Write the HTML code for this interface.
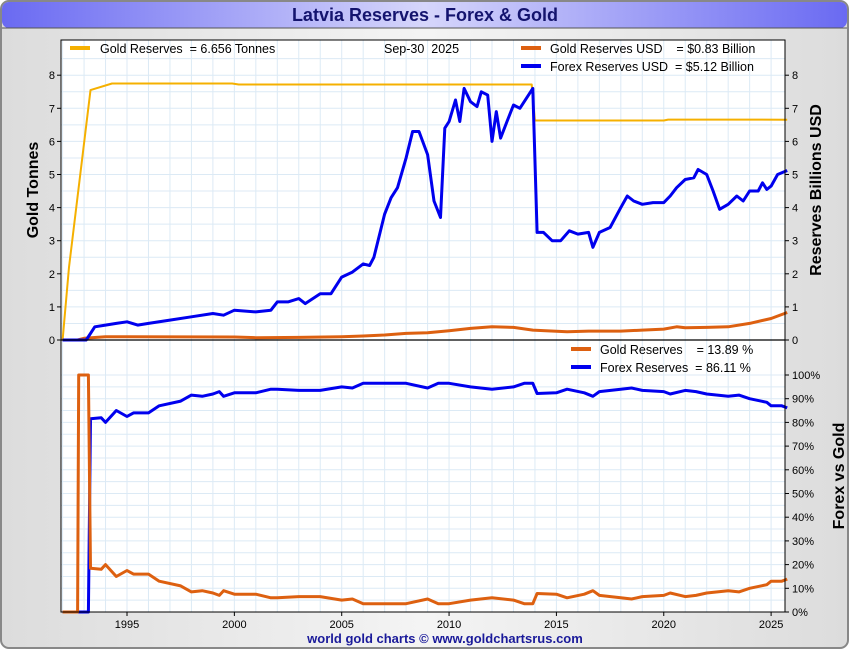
<!DOCTYPE html>
<html><head><meta charset="utf-8"><style>
body{margin:0;background:#fff;font-family:"Liberation Sans",sans-serif}
text{white-space:pre}
</style></head><body>
<svg id="c" width="850" height="650" xmlns="http://www.w3.org/2000/svg" font-family="Liberation Sans, sans-serif">
<defs>
<linearGradient id="tg" x1="0" x2="1"><stop offset="0" stop-color="#6a6af2"/><stop offset="0.5" stop-color="#d6d6fb"/><stop offset="1" stop-color="#6a6af2"/></linearGradient>
<linearGradient id="bg" x1="0" x2="1"><stop offset="0" stop-color="#dcdcdc"/><stop offset="0.5" stop-color="#f4f4f4"/><stop offset="1" stop-color="#dcdcdc"/></linearGradient>
</defs>
<rect x="1" y="1" width="847" height="647" rx="8" fill="url(#bg)" stroke="#888" stroke-width="2"/>
<rect x="2" y="2" width="845" height="26" rx="7" fill="url(#tg)"/>
<line x1="2" y1="28" x2="847" y2="28" stroke="#555" stroke-width="1"/>
<text x="425" y="21" text-anchor="middle" font-size="18" font-weight="bold" fill="#14146e">Latvia Reserves - Forex &amp; Gold</text>
<rect x="61" y="40" width="724" height="572" fill="#fff"/>
<g id="grid"></g>
<g id="marks"></g>
<rect x="61" y="40" width="724" height="572" fill="none" stroke="#000" stroke-width="1"/>
<line x1="61" y1="340" x2="785" y2="340" stroke="#000" stroke-width="1.2"/>
<g id="axes" font-size="11" fill="#000"></g>
<text transform="translate(38,190) rotate(-90)" text-anchor="middle" font-size="16" font-weight="bold">Gold Tonnes</text>
<text transform="translate(821,190) rotate(-90)" text-anchor="middle" font-size="16" font-weight="bold">Reserves Billions USD</text>
<text transform="translate(844,476) rotate(-90)" text-anchor="middle" font-size="16" font-weight="bold">Forex vs Gold</text>
<g font-size="12.5" fill="#000">
<g><rect x="70" y="46" width="20" height="4" fill="#f5b000"/><text x="100" y="53" xml:space="preserve">Gold Reserves  = 6.656 Tonnes</text></g>
<text x="384" y="53" xml:space="preserve">Sep-30  2025</text>
<g><rect x="521" y="46" width="20" height="4" fill="#dd6010"/><text x="550" y="53" xml:space="preserve">Gold Reserves USD    = $0.83 Billion</text></g>
<g><rect x="521" y="64" width="20" height="4" fill="#0000ee"/><text x="550" y="71" xml:space="preserve">Forex Reserves USD  = $5.12 Billion</text></g>
<g><rect x="571" y="347" width="20" height="4" fill="#dd6010"/><text x="600" y="354" xml:space="preserve">Gold Reserves    = 13.89 %</text></g>
<g><rect x="571" y="365" width="20" height="4" fill="#0000ee"/><text x="600" y="372" xml:space="preserve">Forex Reserves  = 86.11 %</text></g>
</g>
<text x="445" y="643" text-anchor="middle" font-size="13" font-weight="bold" fill="#1a1a9a">world gold charts © www.goldchartsrus.com</text>
</svg>
<script>
const goldTonYears=[1992,1992.3,1993.3,1994.3,1999.9,2000.2,2013.85,2014.0,2020.0,2020.2,2025.75];
const goldTonVals=[0,2.2,7.55,7.75,7.75,7.72,7.72,6.63,6.63,6.66,6.656];
const forexYears=[1992,1993.1,1993.3,1993.5,1994,1994.5,1995,1995.5,1996,1997,1998,1999,1999.5,2000,2001,2001.7,2002,2002.5,2003,2003.3,2004,2004.5,2005,2005.5,2006,2006.3,2006.5,2007,2007.3,2007.6,2008,2008.3,2008.6,2009,2009.3,2009.6,2009.8,2010,2010.3,2010.5,2010.7,2011,2011.3,2011.5,2011.8,2012,2012.2,2012.4,2012.7,2013,2013.3,2013.9,2014.1,2014.4,2014.8,2015.2,2015.6,2016,2016.5,2016.7,2017,2017.5,2018,2018.3,2018.6,2019,2019.5,2020,2020.3,2020.6,2021,2021.4,2021.6,2022,2022.3,2022.6,2023,2023.4,2023.7,2024,2024.4,2024.6,2024.8,2025,2025.3,2025.75];
const forexVals=[0,0,0.2,0.4,0.45,0.5,0.55,0.45,0.5,0.6,0.7,0.8,0.75,0.9,0.85,0.9,1.15,1.15,1.25,1.1,1.4,1.4,1.9,2.05,2.3,2.25,2.5,3.8,4.3,4.6,5.5,6.3,6.3,5.6,4.2,3.7,6.4,6.6,7.25,6.6,7.6,7.2,7.05,7.5,7.4,6.0,6.9,6.1,6.6,7.1,7.0,7.6,3.25,3.25,3.0,3.0,3.3,3.2,3.25,2.8,3.25,3.4,4.0,4.35,4.2,4.1,4.15,4.15,4.35,4.6,4.85,4.9,5.15,5.0,4.5,3.95,4.1,4.35,4.2,4.5,4.5,4.75,4.55,4.65,5.0,5.12];
const goldUsdYears=[1992,1992.7,1993,1994,2000,2001,2003,2005,2006,2007,2008,2009,2010,2011,2012,2013,2013.9,2014.5,2015.5,2016.5,2017,2018,2019,2020,2020.6,2021,2022,2023,2024,2025,2025.75];
const goldUsdVals=[0,0,0.05,0.1,0.09,0.07,0.08,0.1,0.12,0.15,0.2,0.22,0.28,0.35,0.4,0.38,0.3,0.28,0.25,0.27,0.27,0.27,0.3,0.33,0.4,0.37,0.38,0.4,0.5,0.65,0.83];
const pctYears=[1992,1992.7,1992.75,1993.2,1993.3,1993.8,1994,1994.5,1995,1995.3,1996,1996.5,1997.5,1998,1998.5,1999,1999.3,1999.5,2000,2001,2001.7,2002,2003,2004,2005,2005.5,2006,2007,2008,2009,2009.5,2010,2011,2012,2013,2013.5,2013.9,2014.1,2015,2015.5,2016.3,2016.7,2017,2018,2018.5,2019,2020,2020.3,2021,2021.5,2022,2023,2023.5,2024,2024.8,2025,2025.5,2025.75];
const goldPctVals=[0,0,100,100,18.5,18,20,15,17.5,16,16,13,11,8.5,9,8,7,9,7.5,7.5,6,6,6.5,6.5,5,5.5,3.5,3.5,3.5,5.5,3.5,3.5,5,6,5,3.5,3.5,7.8,7.5,6,7.5,9,7,6,5.5,6.5,7,8,6.5,7,8,9,8.5,10,11.5,13,13,13.89];
const forexPctVals=[0,0,0,0,81.5,82,80,85,82.5,84,84,87,89,91.5,91,92,93,91,92.5,92.5,94,94,93.5,93.5,95,94.5,96.5,96.5,96.5,94.5,96.5,96.5,95,94,95,96.5,96.5,92.2,92.5,94,92.5,91,93,94,94.5,93.5,93,92,93.5,93,92,91,91.5,90,88.5,87,87,86.11];
const yearTicks=[1995,2000,2005,2010,2015,2020,2025];
const topTicks=[0,1,2,3,4,5,6,7,8];
const pctTicks=[0,10,20,30,40,50,60,70,80,90,100];

const NS="http://www.w3.org/2000/svg";
const xS=y=>62.6+(y-1992)*21.47;
const yTop=v=>340-v*33.1;
const yPct=p=>612-p*2.37;
function mk(tag,attrs,parent){const e=document.createElementNS(NS,tag);for(const k in attrs)e.setAttribute(k,attrs[k]);parent.appendChild(e);return e;}
const grid=document.getElementById('grid'),marks=document.getElementById('marks'),axes=document.getElementById('axes');
for(let yr=1992;yr<=2025;yr++){const x=xS(yr);const g=mk('line',{x1:x,x2:x,y1:40,y2:612,stroke:'#dceaf5','stroke-width':1},grid);

}
for(let v=0.5;v<=8.5;v+=0.5){const g=mk('line',{x1:61,x2:785,y1:yTop(v),y2:yTop(v),stroke:'#dceaf5'},grid);

}
for(let p=5;p<=100;p+=5){const g=mk('line',{x1:61,x2:785,y1:yPct(p),y2:yPct(p),stroke:'#dceaf5'},grid);

}
function line(xs,vs,yf,color,name,w){const pts=xs.map((x,i)=>xS(x).toFixed(1)+','+yf(vs[i]).toFixed(1)).join(' ');
const p=mk('polyline',{points:pts,fill:'none',stroke:color,'stroke-width':w,'stroke-linejoin':'round'},marks);

}
line(goldTonYears,goldTonVals,yTop,'#f5b000','gold-tonnes-line',2);
line(goldUsdYears,goldUsdVals,yTop,'#dd6010','gold-usd-line',3);
line(forexYears,forexVals,yTop,'#0000ee','forex-usd-line',3);
line(pctYears,forexPctVals,yPct,'#0000ee','forex-pct-line',3);
line(pctYears,goldPctVals,yPct,'#dd6010','gold-pct-line',3);
yearTicks.forEach(yr=>{const t=mk('text',{x:xS(yr),y:628,'text-anchor':'middle'},axes);t.textContent=yr;


mk('line',{x1:xS(yr),x2:xS(yr),y1:612,y2:616,stroke:'#000'},axes);});
topTicks.forEach(v=>{const y=yTop(v);
const a=mk('text',{x:55,y:y+4,'text-anchor':'end'},axes);a.textContent=v;


const b=mk('text',{x:792,y:y+4},axes);b.textContent=v;


mk('line',{x1:57,x2:61,y1:y,y2:y,stroke:'#000'},axes);mk('line',{x1:785,x2:789,y1:y,y2:y,stroke:'#000'},axes);});
pctTicks.forEach(p=>{const y=yPct(p);const t=mk('text',{x:792,y:y+4},axes);t.textContent=p+'%';


mk('line',{x1:785,x2:789,y1:y,y2:y,stroke:'#000'},axes);});
</script>
</body></html>
